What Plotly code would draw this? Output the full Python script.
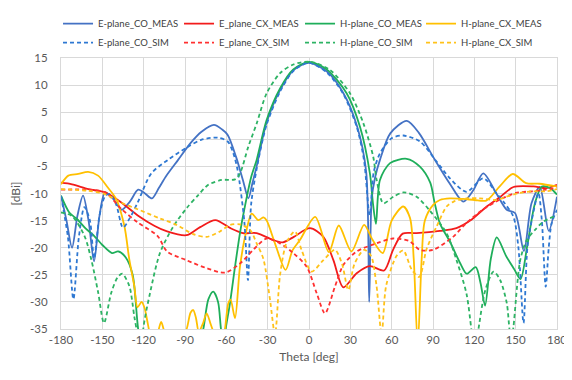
import plotly.graph_objects as go

# ---------------- data ----------------
eco_meas_theta = [-180, -176, -172, -168, -164, -160, -156, -152, -148, -142, -136, -130, -124, -119, -114, -109, -104,
                  -95, -86, -78, -69, -63, -59, -53, -48, -44, -41, -38, -31, -21, -11, 0, 13, 25, 35, 41.5, 43.7,
                  45.5, 48, 51.5, 59, 71, 80, 90, 102, 112, 119, 126.5, 136, 143.5, 149.5, 156, 161.5, 167.5, 174, 180]
eco_meas_val = [-10.4, -15, -20, -14, -10.4, -15, -22.5, -14, -9.8, -11, -13, -11.5, -9.3, -10, -10.9, -9, -6.9,
                -3.8, -0.7, 1.4, 2.65, 1.8, 0.8, -3.2, -7.5, -10.9, -8, -5, 2.9, 9.1, 12.8, 14.1, 12.5, 8.5, 2.3, -6, -30,
                -11, -7, -3.8, 1.1, 3.4, 1.1, -3.2, -8.1, -11.5, -9.5, -6.3, -10, -13, -13.6, -20.6, -11.8, -8.8, -16.9, -10.6]

eco_sim_theta = [-180, -175, -171, -167, -163, -159, -156, -152, -148, -144.7, -140, -135, -130, -124.4, -114.5, -102.4,
                 -88, -78.3, -66.3, -59, -55, -51.8, -47, -44.3, -42, -38, -31, -21, -11, 0, 13, 25, 35, 40, 44,
                 47, 51.5, 60, 68.5, 80.5, 92.6, 102.3, 114.3, 126.5, 136.2, 142, 148.4, 152, 155.7, 158.5, 161.7,
                 166.5, 169, 171.8, 174, 176.1, 180]
eco_sim_val = [-10.5, -18, -29.5, -18, -12.5, -15, -22, -14, -10.5, -10.1, -12, -16.3, -14.5, -11.7, -6.3, -3.8,
               -1.4, -0.1, 0.3, -0.4, -2.5, -5.7, -15, -26, -12, -5.5, 2.5, 8.8, 12.7, 14.1, 12.3, 8.3, 2, -4, -14,
               -6, -2.6, 0.2, 0.7, -0.4, -4.1, -7.2, -9.7, -7.2, -10, -11.8, -14.3, -20, -33.9, -20, -14.9,
               -9.9, -15, -27.2, -20, -15.5, -13]

ecx_meas_theta = [-180, -172, -160, -148, -136, -124, -112, -103, -89, -79, -68, -57, -48, -38, -26, -19, -11, 0.7,
                  10.4, 17.7, 24.9, 34.6, 44.2, 54.5, 61, 68, 78, 95, 107, 117, 129, 139, 148.4, 163, 172.5, 180]
ecx_meas_val = [-8, -8.3, -9.2, -9.8, -11.7, -14.1, -16, -17, -17.7, -16.2, -14.9, -16.4, -17.3, -17.3, -18.6, -19,
                -18, -16.4, -18, -22.3, -27.3, -24.7, -23.4, -24.2, -20.4, -17.4, -17.3, -16.9, -16.4, -15, -12.4,
                -10.6, -8.8, -8.7, -9, -8.4]

ecx_sim_theta = [-180, -160, -148, -136, -124, -110, -103, -89, -74, -61, -50, -40.5, -30.7, -21, -11.4, -1.7, 5.6,
                 11.6, 18.8, 24.9, 34.6, 49, 61, 73, 80.5, 90, 104.5, 114, 126, 138, 150, 162, 172, 180]
ecx_sim_val = [-9.3, -9.3, -9.8, -12.9, -15.4, -17.8, -20.7, -22.3, -23.8, -24.6, -22.9, -20.4, -18.3, -19.2, -21,
               -23.5, -28.4, -32.1, -27.2, -23.2, -20.7, -19.2, -18.3, -18.8, -20.4, -20.4, -18, -15.5, -13, -11.2,
               -9.9, -9.6, -9.3, -8.9]

hco_meas_theta = [-180, -174, -168, -162, -156, -150, -143, -138.5, -133, -128, -124, -118, -100, -85, -76.7, -73,
                  -69.5, -66, -63.9, -62, -60.5, -57.4, -53.7, -50.1, -47, -42, -38, -30.7, -21, -11.4, 0, 12.8,
                  27.3, 37, 44.2, 46.5, 48.6, 51.5, 58.8, 70.9, 80.5, 88, 91, 95, 102.5, 110, 114.5, 121, 124.5,
                  127.8, 132, 136.3, 143, 149, 153.5, 158.5, 164, 169, 175, 180]
hco_meas_val = [-10.4, -13.5, -14.8, -16.5, -17.8, -19.5, -21, -20.7, -21.8, -25, -35, -44, -50, -44, -35, -29.5,
                -28.1, -30, -35, -38, -35, -30.3, -23.5, -17.3, -13, -7, -3.8, 3.6, 9.4, 12.9, 14.3, 12.9,
                8.5, 2.3, -6.3, -12, -15.6, -7.5, -4.4, -3.6, -5.05, -8, -11.5, -15.5, -19, -23, -24.8, -23.6, -26.5,
                -30.7, -22, -18.1, -21.5, -24, -25.8, -19.5, -11.8, -8.7, -9, -10.2]

hco_sim_theta = [-180, -172.3, -163, -158, -153, -148.8, -143.5, -139, -135.5, -130.4, -126.8, -124, -122, -120.3,
                 -115.4, -108.2, -98.5, -88.5, -80.4, -73.1, -63.4, -53.7, -50.1, -44.1, -38, -30.7, -21, -11.4,
                 0.7, 15.2, 29.7, 39.4, 46.6, 49.1, 54, 61.2, 68.5, 78.1, 87.8, 99.8, 107.1, 114.3, 117.8, 120,
                 123, 128, 134, 138.8, 143.6, 145.5, 147, 148.4, 153.3, 158, 164.1, 170.1, 180]
hco_sim_val = [-13.5, -14.1, -17.8, -22.2, -28.3, -33.9, -28.3, -25.5, -24.8, -27.1, -32.7, -37, -45, -35,
               -28.4, -21, -16.1, -12.6, -10.3, -8.4, -7.5, -7.4, -6.3, -1.4, 2.9, 8.5, 12.2, 13.8,
               14.3, 12.8, 8.5, 3, -3.2, -7.5, -11.8, -10.6, -9.8, -10.6, -13.2, -17.3, -22.3, -28.5, -35, -40,
               -35, -27.8, -24.4, -26, -30.3, -35, -37, -34.6, -22.3, -18.6, -16.7, -15.2, -14]

hcx_meas_theta = [-180, -174.7, -167.5, -160.3, -153.1, -146, -140, -134, -130.4, -126.8, -124.5, -121.5, -119.5,
                  -117, -115.5, -113, -110, -107.3, -104.5, -98, -88.8, -86, -84, -82, -80, -77, -74.3, -71.5,
                  -69.5, -65, -61, -58.6, -56.9, -53.7, -50.1, -45.3, -41.6, -36.8, -33, -30.7, -24.7, -17, -12,
                  -6.6, 4.5, 14.4, 21.6, 30.8, 40, 46, 53.5, 60, 68.4, 73.3, 76, 78.9, 81.8, 84.1, 90.1, 95, 102.2,
                  111.8, 120.2, 128.7, 138.4, 147.9, 157.6, 167.3, 180]
hcx_meas_val = [-8.3, -6.7, -6.4, -6, -6.7, -8.9, -11, -16, -22.2, -27.1, -31, -30, -31, -34, -36, -38, -36, -33.7,
                -36, -40, -35, -32, -31.5, -33, -35.5, -34, -32.1, -34, -35.5, -40, -35, -30.3, -29.6, -33, -23.5,
                -16.7, -13.7, -14.9, -14.4, -15, -19.2, -24.1, -20.5, -18.6, -14.3, -20.8, -15.9, -20.7, -15.8,
                -18.5, -21, -15, -12.4, -14.5, -22, -38, -22, -15, -12.1, -11.2, -10.9, -11, -11.2, -11.3, -8.7,
                -6.4, -8.1, -8.2, -8.7]

hcx_sim_theta = [-180, -160.3, -148.3, -136.3, -124.4, -108.2, -96, -84, -74.3, -64.6, -57.4, -50.1, -42.8, -38,
                 -33.2, -28.3, -24.7, -21, -16.2, -10.2, -5.4, 1.9, 10.4, 18.8, 24, 28.5, 33, 40, 45, 49, 52.7, 56,
                 63.6, 68.4, 74.5, 80, 85.4, 92.6, 99.9, 105, 114.3, 123.9, 136, 143.2, 152.9, 162.5, 172.2, 180]
hcx_sim_val = [-9.2, -9.5, -10.1, -11.7, -12.9, -14.6, -15.8, -17.5, -18, -17, -15.8, -15.7, -16.7, -19.2, -22,
               -29.6, -36, -25, -19, -17, -20.4, -24.4, -22.3, -20.4, -23, -27.8, -23, -20.4, -21.5, -27, -36, -27,
               -21.5, -20.5, -24, -25.4, -20.2, -16.1, -12.4, -11.5, -10.9, -10.9, -11.2, -10.6, -9.9, -9.6, -9.6,
               -9.2]

x_ticks = list(range(-180, 181, 30))
y_ticks = list(range(-35, 16, 5))

series = [
    ("E-plane_CO_MEAS", eco_meas_theta, eco_meas_val, "#4472C4", "solid"),
    ("E_plane_CX_MEAS", ecx_meas_theta, ecx_meas_val, "#F21B1B", "solid"),
    ("H-plane_CO_MEAS", hco_meas_theta, hco_meas_val, "#1EAE5A", "solid"),
    ("H-plane_CX_MEAS", hcx_meas_theta, hcx_meas_val, "#FFC000", "solid"),
    ("E-plane_CO_SIM", eco_sim_theta, eco_sim_val, "#2E78D2", "4px,3px"),
    ("E_plane_CX_SIM", ecx_sim_theta, ecx_sim_val, "#FF3030", "4px,3px"),
    ("H-plane_CO_SIM", hco_sim_theta, hco_sim_val, "#2DB364", "4px,3px"),
    ("H-plane_CX_SIM", hcx_sim_theta, hcx_sim_val, "#FFC21A", "4px,3px"),
]

fig = go.Figure()
for name, xs, ys, color, dash in series:
    fig.add_trace(go.Scatter(
        x=xs, y=ys, name=name, mode="lines",
        line=dict(color=color, width=1.8, dash=dash, shape="spline", smoothing=0.8),
    ))

FONT = "Lato, 'Open Sans', sans-serif"
grid = "#D9D9D9"

# the page body has an 8px margin, so the figure is sized/offset to compensate
fig.update_layout(
    width=564, height=372,
    margin=dict(l=53, r=15, t=50, b=51, autoexpand=False),
    paper_bgcolor="white", plot_bgcolor="white",
    font=dict(family=FONT, size=11, color="#404040"),
    showlegend=True,
    legend=dict(
        orientation="h", x=-0.006, xanchor="left", y=1.18, yanchor="top",
        entrywidth=76, entrywidthmode="pixels",
        font=dict(family=FONT, size=9.5, color="#404040"),
        bgcolor="rgba(0,0,0,0)", itemwidth=30,
    ),
    xaxis=dict(
        range=[-180, 180], tickvals=x_ticks, ticktext=[str(v) for v in x_ticks],
        showgrid=True, gridcolor=grid, gridwidth=1, zeroline=False,
        showline=True, linecolor=grid, mirror=True,
        ticks="",
        tickfont=dict(family=FONT, size=11.5, color="#595959"),
        title=dict(text="Theta [deg]", font=dict(family=FONT, size=12, color="#595959"), standoff=7),
    ),
    yaxis=dict(
        range=[-35, 15], tickvals=y_ticks, ticktext=[str(v) for v in y_ticks],
        showgrid=True, gridcolor=grid, gridwidth=1, zeroline=False,
        showline=True, linecolor=grid, mirror=True,
        ticks="", ticklabelstandoff=10,
        tickfont=dict(family=FONT, size=11.5, color="#595959"),
        title=dict(text="[dBi]", font=dict(family=FONT, size=12, color="#595959"), standoff=6),
    ),
)

fig.write_html("out.html")
